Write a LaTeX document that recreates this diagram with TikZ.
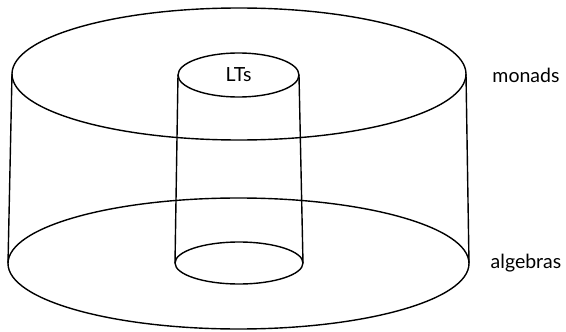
\documentclass[tikz,border=0pt]{standalone}
\usepackage{fontspec}
\setmainfont{Lato}
\usetikzlibrary{shapes.geometric}
\begin{document}
\begin{tikzpicture}[x=1pt,y=-1pt,line width=1.4pt,
  disc/.style={draw,ellipse,inner sep=0pt,outer sep=0pt},
  lbl/.style={font=\fontsize{19.5}{23}\selectfont,inner sep=0pt}]
\useasboundingbox (0,0) rectangle (566,332);
\node[disc,minimum width=454pt,minimum height=132pt] (bigtop) at (239,74) {};
\node[disc,minimum width=461pt,minimum height=131pt] (bigbot) at (238.5,263.5) {};
\node[disc,minimum width=121pt,minimum height=44pt,lbl] (smalltop) at (238.5,75) {LTs};
\node[disc,minimum width=128pt,minimum height=42pt] (smallbot) at (239,263) {};
\draw (bigtop.west) -- (bigbot.west);
\draw (bigtop.east) -- (bigbot.east);
\draw (smalltop.west) -- (smallbot.west);
\draw (smalltop.east) -- (smallbot.east);
\node[lbl] (monads) at (526,75) {monads};
\node[lbl] (algebras) at (526,263) {algebras};
\end{tikzpicture}
\end{document}
